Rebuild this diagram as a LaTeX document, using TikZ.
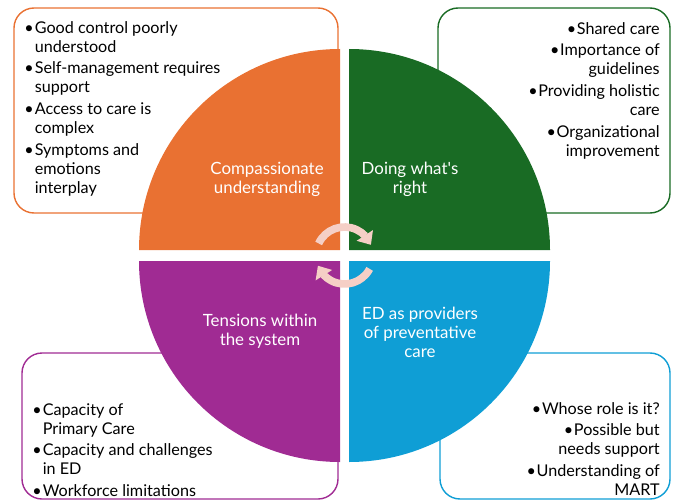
\documentclass[tikz,border=0pt]{standalone}
\usepackage{fontspec}
\setmainfont{Lato}
\usetikzlibrary{positioning,arrows.meta,bending}
\definecolor{corange}{HTML}{E97132}
\definecolor{cgreen}{HTML}{196B24}
\definecolor{cblue}{HTML}{0F9ED5}
\definecolor{cpurple}{HTML}{A02B93}
\definecolor{cpink}{HTML}{F5CFC6}
\newcommand{\bul}{\makebox[0.65em][l]{\textbullet}}
\newcommand{\ind}{\hspace*{0.65em}}
\newcommand{\rbul}{\textbullet\kern0.5pt}

\begin{document}
\begin{tikzpicture}[x=0.025cm,y=0.025cm,
	frame/.style={draw=#1,line width=1pt,rounded corners=0.5cm},
	lbl/.style={text=white,align=center,font=\fontsize{12}{13.5}\selectfont},
	items/.style={inner sep=0pt,font=\fontsize{11.5}{13.5}\selectfont},
	turn/.style={cpink,line width=0.19cm,-{Triangle[width=0.47cm,length=0.28cm]}}]
\useasboundingbox (0,0) rectangle (675,502);
% frames behind the wheel
\draw[frame=corange] (14,289) rectangle (338,494);
\draw[frame=cgreen] (438,289) rectangle (670,494);
\draw[frame=cpurple] (22,3) rectangle (338,149);
\draw[frame=cblue] (440,3) rectangle (670,149);
% the four quarters
\foreach \col/\x/\y/\a in {corange/340/252/90,cgreen/349/252/0,cpurple/340/241/180,cblue/349/241/270}
	\fill[\col] (\x,\y) -- ++(\a:201) arc[start angle=\a,delta angle=90,radius=201] -- cycle;

\node[lbl] (Q1) at (267,323) {Compassionate\\understanding};
\node[lbl] (Q2) at (410,323) {Doing what\textquotesingle s\\right};
\node[lbl] (Q3) at (260,171) {Tensions within\\the system};
\node[lbl] (Q4) at (420,170) {ED as providers\\of preventative\\care};

\coordinate (C) at (344.5,246.5);
\draw[turn] ([shift={(155:28.5)}]C) arc[start angle=155,end angle=22,radius=28.5];
\draw[turn] ([shift={(-28:28.5)}]C) arc[start angle=-28,end angle=-159,radius=28.5];

\node[items,anchor=north west,align=left] (L1) at (24,481) {\bul Good control poorly\\ \ind understood\\[2pt]
	\bul Self-management requires\\ \ind support\\[2pt]
	\bul Access to care is\\ \ind complex\\[2pt]
	\bul Symptoms and\\ \ind emotions\\ \ind interplay};
\node[items,anchor=north east,align=right] (L2) at (660,480) {\rbul Shared care\\[2pt]
	\rbul Importance of\\ guidelines\\[2pt]
	\rbul Providing holistic\\ care\\[2pt]
	\rbul Organizational\\ improvement};
\node[items,anchor=north west,align=left] (L3) at (32,99) {\bul Capacity of\\ \ind Primary Care\\[2pt]
	\bul Capacity and challenges\\ \ind in ED\\[2pt]
	\bul Workforce limitations};
\node[items,anchor=north east,align=right] (L4) at (660,100) {\rbul Whose role is it?\\[2pt]
	\rbul Possible but\\ needs support\\[2pt]
	\rbul Understanding of\\ MART};
\end{tikzpicture}
\end{document}
